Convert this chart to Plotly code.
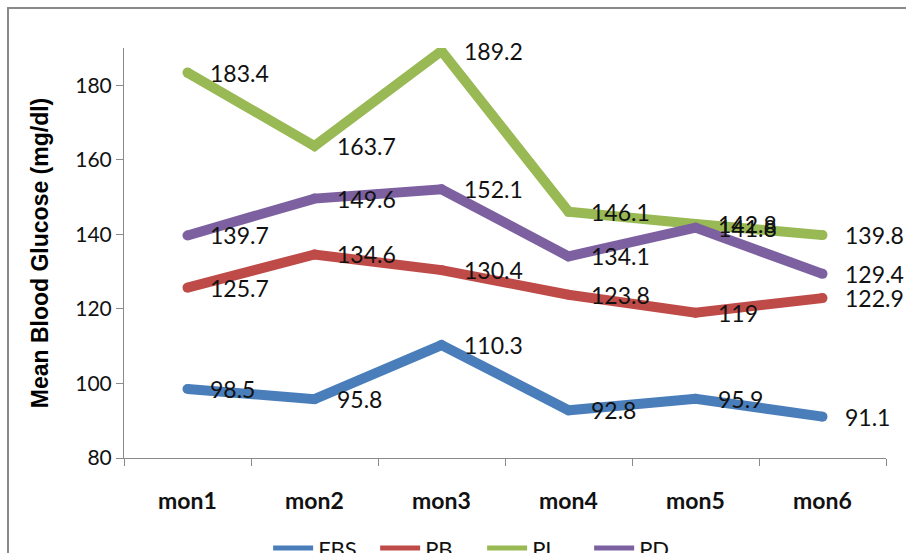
import plotly.graph_objects as go

categories = ["mon1", "mon2", "mon3", "mon4", "mon5", "mon6"]
series_names = ["FBS", "PB", "PL", "PD"]
fbs = [98.5, 95.8, 110.3, 92.8, 95.9, 91.1]
pb = [125.7, 134.6, 130.4, 123.8, 119, 122.9]
pl = [183.4, 163.7, 189.2, 146.1, 142.8, 139.8]
pd_vals = [139.7, 149.6, 152.1, 134.1, 141.8, 129.4]
colors = ["#4A7EBB", "#BE4B48", "#98B954", "#7D60A0"]
y_ticks = [80, 100, 120, 140, 160, 180]

all_series = [fbs, pb, pl, pd_vals]

fig = go.Figure()
for name, vals, col in zip(series_names, all_series, colors):
    fig.add_trace(go.Scatter(
        x=categories, y=vals, mode="lines+markers", name=name,
        line=dict(color=col, width=10),
        marker=dict(color=col, size=10, line=dict(width=0)),
        showlegend=False, hoverinfo="x+y",
    ))
# legend-only traces
for name, col in zip(series_names, colors):
    fig.add_trace(go.Scatter(
        x=[None], y=[None], mode="lines", name=name,
        line=dict(color=col, width=5), showlegend=True,
    ))

annotations = []
for vals in all_series:
    for c, v in zip(categories, vals):
        annotations.append(dict(
            x=c, y=v, xref="x", yref="y", text=f"{v:g}", showarrow=False,
            xanchor="left", yanchor="middle", xshift=20,
            font=dict(family="Lato, sans-serif", size=23, color="#111111"),
        ))

fig.update_layout(
    width=906, height=553,
    margin=dict(l=124, r=20, t=48, b=95, autoexpand=False),
    paper_bgcolor="white", plot_bgcolor="white",
    font=dict(family="Lato, sans-serif", color="#111111"),
    annotations=annotations,
    showlegend=True,
    legend=dict(
        orientation="h", x=0.47, xanchor="center", y=-0.22, yanchor="middle",
        font=dict(family="Lato, sans-serif", size=22, color="#111111"),
        itemwidth=40, tracegroupgap=0, entrywidth=52, entrywidthmode="pixels",
    ),
    shapes=[dict(
        type="rect", xref="paper", yref="paper",
        x0=(8 - 124) / 762, x1=2, y0=-1, y1=(458 - 8) / 410,
        line=dict(color="#8a8a8a", width=2), fillcolor="rgba(0,0,0,0)",
        layer="below",
    )],
)

fig.update_xaxes(
    type="category", showgrid=False, showline=True, linecolor="#8a8a8a",
    linewidth=1, ticks="outside", tickson="boundaries", ticklen=7,
    tickcolor="#8a8a8a", ticklabelstandoff=22,
    tickfont=dict(family="Lato, sans-serif", size=23, color="#111111", weight="bold"),
    range=[-0.5, 5.5], zeroline=False,
)
fig.update_yaxes(
    range=[80, 190], tickvals=y_ticks, showgrid=False, showline=True,
    linecolor="#8a8a8a", linewidth=1, ticks="outside", ticklen=7,
    tickcolor="#8a8a8a", zeroline=False,
    tickfont=dict(family="Lato, sans-serif", size=21, color="#111111"),
    title=dict(text="Mean Blood Glucose (mg/dl)", standoff=20,
               font=dict(family="Liberation Sans, Arial, sans-serif", size=23,
                         color="#000000", weight="bold")),
)

fig.write_html("out.html")
